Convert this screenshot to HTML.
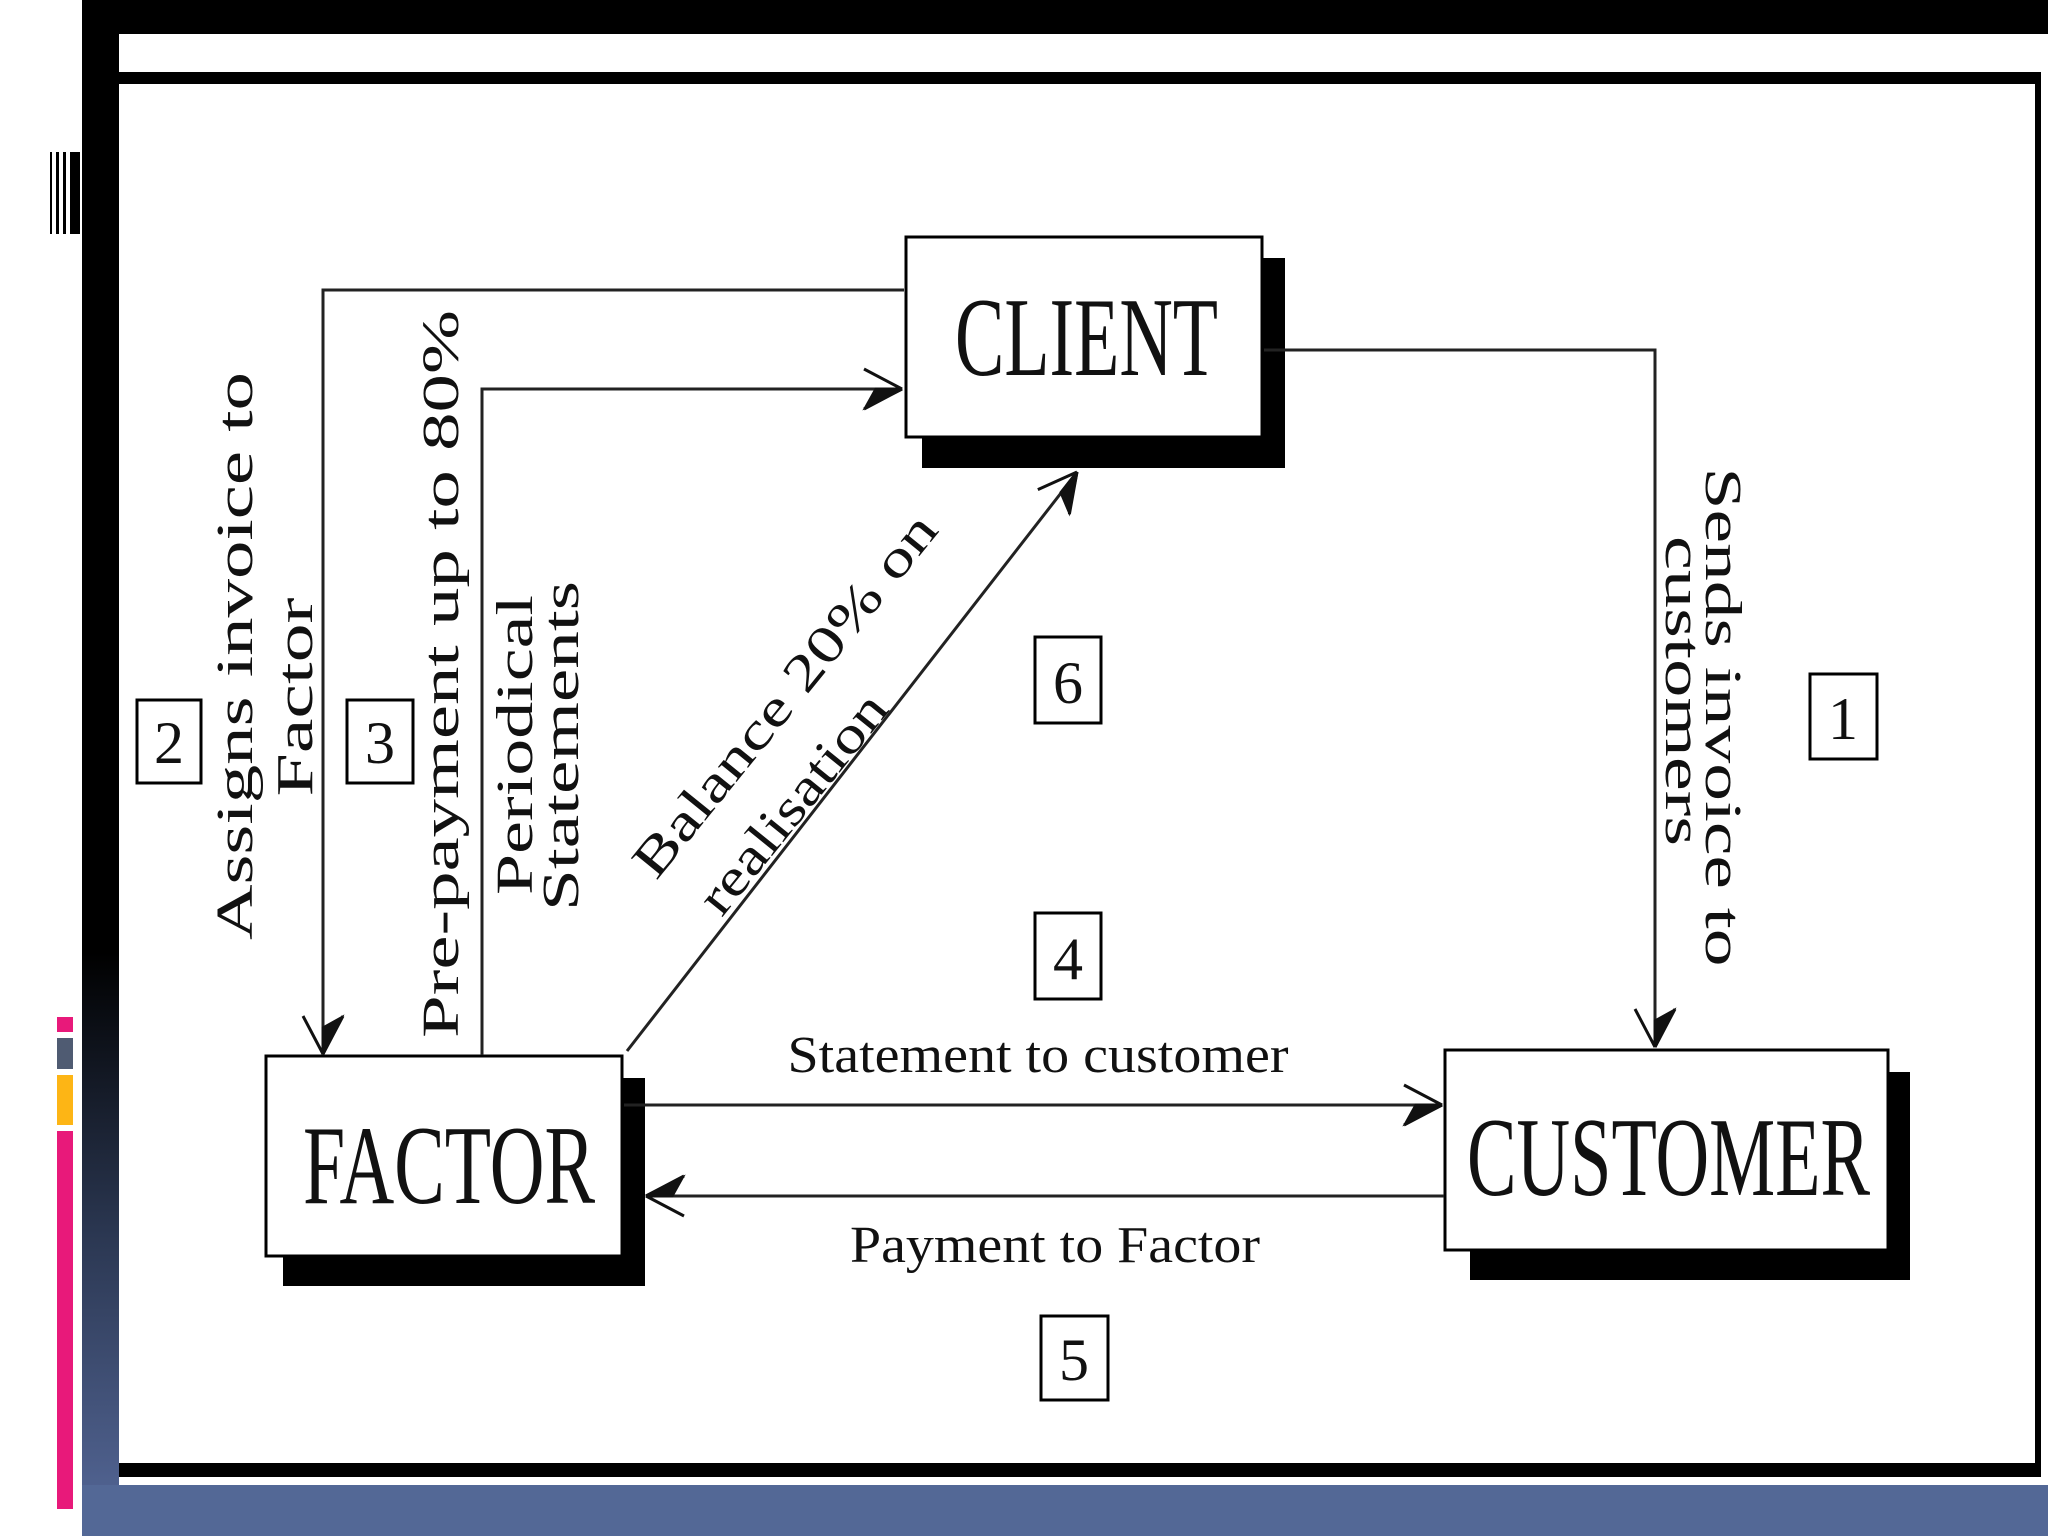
<!DOCTYPE html>
<html><head><meta charset="utf-8"><style>
html,body{margin:0;padding:0;background:#fff;}
svg{display:block}
text{font-family:"Liberation Serif",serif;fill:#111}
</style></head><body>
<svg width="2048" height="1536" viewBox="0 0 2048 1536" xmlns="http://www.w3.org/2000/svg" font-family="Liberation Serif, serif">
<defs>
<linearGradient id="lg" x1="0" y1="0" x2="0" y2="1">
<stop offset="0" stop-color="#000"/><stop offset="0.62" stop-color="#000"/><stop offset="0.8" stop-color="#2a3650"/><stop offset="1" stop-color="#56699a"/>
</linearGradient>
</defs>
<rect width="2048" height="1536" fill="#fff"/>
<rect x="82" y="0" width="37" height="1536" fill="url(#lg)"/>
<rect x="82" y="0" width="1966" height="34" fill="#000"/>
<rect x="82" y="1485" width="1966" height="51" fill="#536896"/>
<!-- left marks -->
<rect x="50" y="152" width="2" height="82" fill="#000"/>
<rect x="56" y="152" width="3" height="82" fill="#000"/>
<rect x="63" y="152" width="3" height="82" fill="#000"/>
<rect x="70" y="152" width="10" height="82" fill="#000"/>
<rect x="57" y="1017" width="16" height="15" fill="#e8197a"/>
<rect x="57" y="1038" width="16" height="31" fill="#4f5b72"/>
<rect x="57" y="1075" width="16" height="50" fill="#fdb515"/>
<rect x="57" y="1131" width="16" height="378" fill="#e8197a"/>
<!-- frame lines -->
<rect x="119" y="72" width="1922" height="12" fill="#000"/>
<rect x="2035" y="72" width="6" height="1405" fill="#000"/>
<rect x="119" y="1463" width="1922" height="14" fill="#000"/>

<!-- boxes -->
<rect x="922" y="258" width="363" height="210" fill="#000"/>
<rect x="906" y="237" width="356" height="200" fill="#fff" stroke="#000" stroke-width="3"/>
<text x="955" y="375" font-size="112" textLength="263" lengthAdjust="spacingAndGlyphs">CLIENT</text>

<rect x="283" y="1078" width="362" height="208" fill="#000"/>
<rect x="266" y="1056" width="356" height="200" fill="#fff" stroke="#000" stroke-width="3"/>
<text x="303" y="1203" font-size="112" textLength="292" lengthAdjust="spacingAndGlyphs">FACTOR</text>

<rect x="1470" y="1072" width="440" height="208" fill="#000"/>
<rect x="1445" y="1050" width="443" height="200" fill="#fff" stroke="#000" stroke-width="3"/>
<text x="1467" y="1195" font-size="112" textLength="403" lengthAdjust="spacingAndGlyphs">CUSTOMER</text>

<!-- connectors -->
<g stroke="#222" stroke-width="3" fill="none">
<polyline points="904,290 323,290 323,1052"/>
<polyline points="482,1055 482,389 902,389"/>
<polyline points="1264,350 1655,350 1655,1047"/>
<line x1="627" y1="1051" x2="1075" y2="475"/>
<line x1="624" y1="1105" x2="1442" y2="1105"/>
<line x1="1444" y1="1196" x2="646" y2="1196"/>
</g>
<g fill="#111" stroke="#111" stroke-width="3">
<g transform="translate(323,1054) rotate(90)"><path d="M0,0 L-38,-20 M0,0 L-38,20" fill="none"/><path d="M0,0 L-36,-18 L-26,0Z"/></g>
<g transform="translate(902,389)"><path d="M0,0 L-38,-20 M0,0 L-38,20" fill="none"/><path d="M0,0 L-36,18 L-26,0Z"/></g>
<g transform="translate(1655,1047) rotate(90)"><path d="M0,0 L-38,-20 M0,0 L-38,20" fill="none"/><path d="M0,0 L-36,-18 L-26,0Z"/></g>
<g transform="translate(1077,472) rotate(-52)"><path d="M0,0 L-38,-20 M0,0 L-38,20" fill="none"/><path d="M0,0 L-36,18 L-26,0Z"/></g>
<g transform="translate(1442,1105)"><path d="M0,0 L-38,-20 M0,0 L-38,20" fill="none"/><path d="M0,0 L-36,18 L-26,0Z"/></g>
<g transform="translate(646,1196) rotate(180)"><path d="M0,0 L-38,-20 M0,0 L-38,20" fill="none"/><path d="M0,0 L-36,18 L-26,0Z"/></g>
</g>

<g fill="#fff" stroke="#000" stroke-width="3">
<rect x="137" y="700" width="64" height="83"/>
<rect x="347" y="700" width="66" height="83"/>
<rect x="1035" y="637" width="66" height="86"/>
<rect x="1810" y="674" width="67" height="85"/>
<rect x="1035" y="913" width="66" height="86"/>
<rect x="1041" y="1316" width="67" height="84"/>
</g>
<g font-size="60" text-anchor="middle">
<text x="169" y="763">2</text>
<text x="380" y="763">3</text>
<text x="1068" y="703">6</text>
<text x="1843" y="739">1</text>
<text x="1068" y="979">4</text>
<text x="1074" y="1380">5</text>
</g>

<g font-size="52" text-anchor="middle">
<text transform="translate(252,656) rotate(-90)" textLength="568" lengthAdjust="spacingAndGlyphs">Assigns invoice to</text>
<text transform="translate(312,697) rotate(-90)" textLength="199" lengthAdjust="spacingAndGlyphs">Factor</text>
<text transform="translate(458,674) rotate(-90)" textLength="728" lengthAdjust="spacingAndGlyphs">Pre-payment up to 80%</text>
<text transform="translate(532,745) rotate(-90)" textLength="300" lengthAdjust="spacingAndGlyphs">Periodical</text>
<text transform="translate(578,746) rotate(-90)" textLength="330" lengthAdjust="spacingAndGlyphs">Statements</text>
<text transform="translate(1706,717) rotate(90)" textLength="499" lengthAdjust="spacingAndGlyphs">Sends invoice to</text>
<text transform="translate(1666,691) rotate(90)" textLength="310" lengthAdjust="spacingAndGlyphs">customers</text>
<text transform="translate(798,706) rotate(-51)" textLength="451" lengthAdjust="spacingAndGlyphs">Balance 20% on</text>
<text transform="translate(806,814) rotate(-51)" textLength="268" lengthAdjust="spacingAndGlyphs">realisation</text>
<text x="1038" y="1072" textLength="501" lengthAdjust="spacingAndGlyphs">Statement to customer</text>
<text x="1055" y="1262" textLength="410" lengthAdjust="spacingAndGlyphs">Payment to Factor</text>
</g>
</svg>
</body></html>
